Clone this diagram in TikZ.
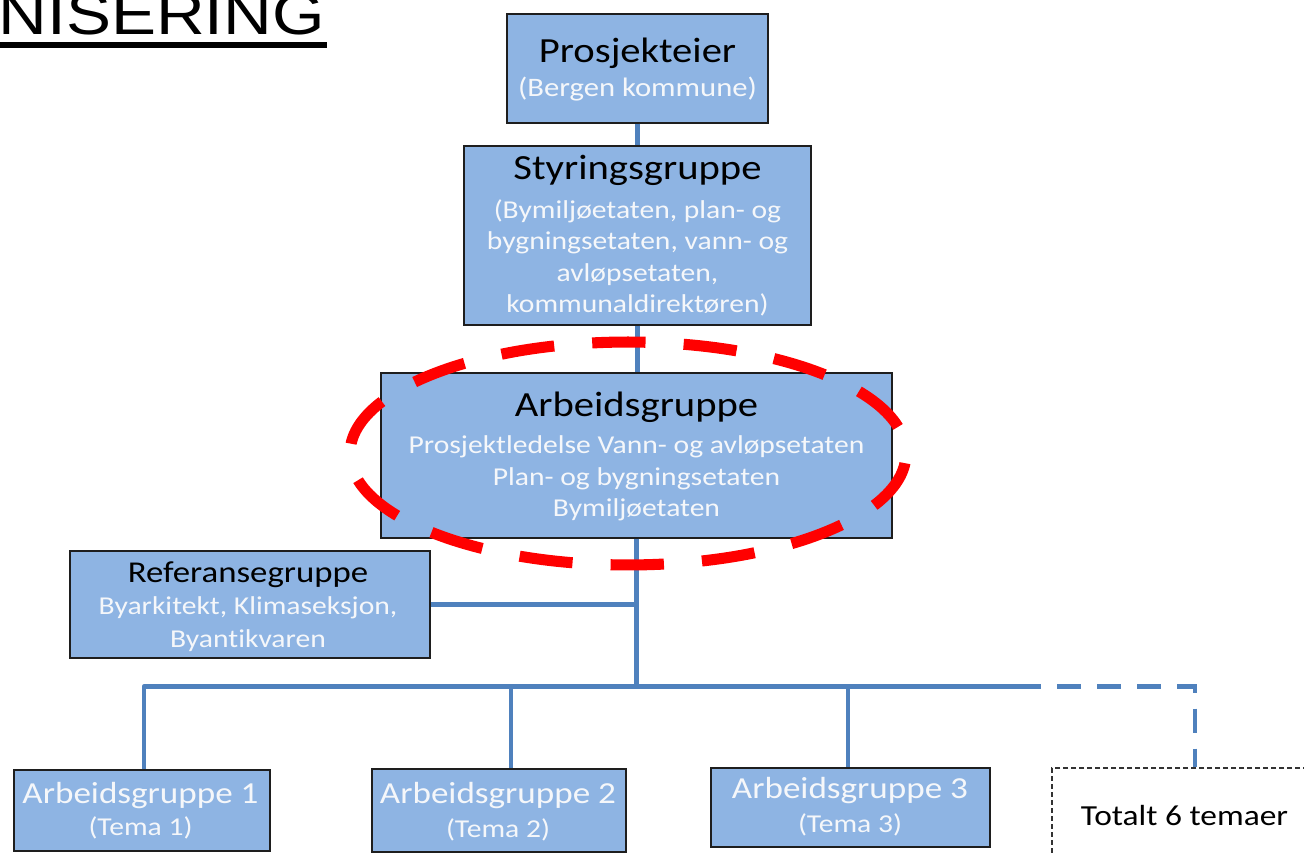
\documentclass[tikz,border=0pt]{standalone}
\usepackage{fontspec}
\setmainfont{Carlito}[FakeStretch=1.15, Ligatures=NoCommon]
\newfontfamily\titlefont{Liberation Sans}[FakeStretch=1.15]
\usetikzlibrary{fit}
\definecolor{boxfill}{RGB}{142,180,227}
\definecolor{linkblue}{RGB}{79,129,189}
\definecolor{boxline}{RGB}{30,30,30}
\definecolor{subwhite}{RGB}{245,247,250}
\tikzset{
  orgbox/.style={draw=boxline, fill=boxfill, line width=1.1pt, inner sep=0pt},
  headtxt/.style={anchor=base, inner sep=0pt, text=black, font=\fontsize{26.5}{30}\selectfont},
  subtxt/.style={anchor=base, inner sep=0pt, text=subwhite, font=\fontsize{19.3}{23}\selectfont},
  reftxt/.style={anchor=base, inner sep=0pt, text=black, font=\fontsize{22.7}{26}\selectfont},
  agtxt/.style={anchor=base, inner sep=0pt, text=subwhite, font=\fontsize{22.9}{26}\selectfont},
  conn/.style={draw=linkblue, line width=3.3pt},
  dashconn/.style={conn, dash pattern=on 18pt off 12pt},
  ring/.style={draw=red, line width=8.3pt, dash pattern=on 40pt off 28.6pt, dash phase=47.5pt}
}
\begin{document}
\begin{tikzpicture}[x=0.75pt, y=-0.75pt]
\useasboundingbox (0,0) rectangle (1304,855);
\clip (0,0) rectangle (1304,855);
\fill[white] (0,0) rectangle (1304,855);

% title
\node[anchor=base east, inner sep=0pt, font=\titlefont\fontsize{44}{50}\selectfont] (ttl) at (325,35) {NISERING};
\draw[line width=4.6pt] ([yshift=-7.8pt]ttl.base west) -- ([xshift=1.5pt,yshift=-7.8pt]ttl.base east);

% boxes
\node[orgbox, fit={(507,14) (768,123)}] (pe) {};
\node[orgbox, fit={(464,146) (811,325)}] (sg) {};
\node[orgbox, fit={(381,373) (892,538)}] (ag) {};
\node[orgbox, fit={(70,551) (430,658)}] (rg) {};
\node[orgbox, fit={(14,770) (270,851)}] (ag1) {};
\node[orgbox, fit={(372,769) (626,852)}] (ag2) {};
\node[orgbox, fit={(711,768) (990,847)}] (ag3) {};
\node[draw=black!80, line width=1.1pt, dash pattern=on 3.5pt off 2.5pt, inner sep=0pt, fit={(1052,768) (1338,900)}] (tot) {};

% texts
\node[headtxt] (peT) at (637.5,63) {Prosjekteier};
\node[subtxt, font=\fontsize{20}{24}\selectfont] (peS) at (637.5,97) {(Bergen kommune)};

\node[headtxt] (sgT) at (637.5,180) {Styringsgruppe};
\node[subtxt] (sgS1) at (637.5,218.5) {(Bymiljøetaten, plan- og};
\node[subtxt] (sgS2) at (637.5,250) {bygningsetaten, vann- og};
\node[subtxt] (sgS3) at (637.5,282) {avløpsetaten,};
\node[subtxt] (sgS4) at (637.5,313) {kommunaldirektøren)};

\node[headtxt] (agT) at (636.5,417) {Arbeidsgruppe};
\node[subtxt] (agS1) at (636.5,454) {Prosjektledelse Vann- og avløpsetaten};
\node[subtxt] (agS2) at (636.5,485.5) {Plan- og bygningsetaten};
\node[subtxt] (agS3) at (636.5,517) {Bymiljøetaten};

\node[reftxt] (rgT) at (248,582) {Referansegruppe};
\node[subtxt] (rgS1) at (248,614.5) {Byarkitekt, Klimaseksjon,};
\node[subtxt] (rgS2) at (248,647.5) {Byantikvaren};

\node[agtxt] (ag1T) at (140.5,803) {Arbeidsgruppe 1};
\node[subtxt] (ag1S) at (140.5,835) {(Tema 1)};
\node[agtxt] (ag2T) at (498,803) {Arbeidsgruppe 2};
\node[subtxt] (ag2S) at (498,837) {(Tema 2)};
\node[agtxt] (ag3T) at (850,798) {Arbeidsgruppe 3};
\node[subtxt] (ag3S) at (850,832) {(Tema 3)};

\node[anchor=base, inner sep=0pt, text=black, font=\fontsize{21.8}{25}\selectfont] (totT) at (1184.5,825) {Totalt 6 temaer};

% connectors
\coordinate (d1) at (144,686.5);
\coordinate (d2) at (511,686.5);
\coordinate (d3) at (848,686.5);
\coordinate (busR) at (1017,686.5);
\draw[conn] (pe.south) -- (sg.north);
\draw[conn] (sg.south) -- (sg.south |- ag.north);
\draw[conn] (ag.south) -- (ag.south |- busR);
\draw[conn] (rg.east) -- (rg.east -| ag.south);
\draw[conn, line join=round] (d1 |- ag1.north) -- (d1) -- (busR);
\draw[conn] (d2) -- (d2 |- ag2.north);
\draw[conn] (d3) -- (d3 |- ag3.north);
\draw[dashconn] (busR) -| (tot.north);

% highlight ring
\draw[ring] (628,453.5) ellipse [x radius=208.5pt, y radius=83.6pt];
\end{tikzpicture}
\end{document}
